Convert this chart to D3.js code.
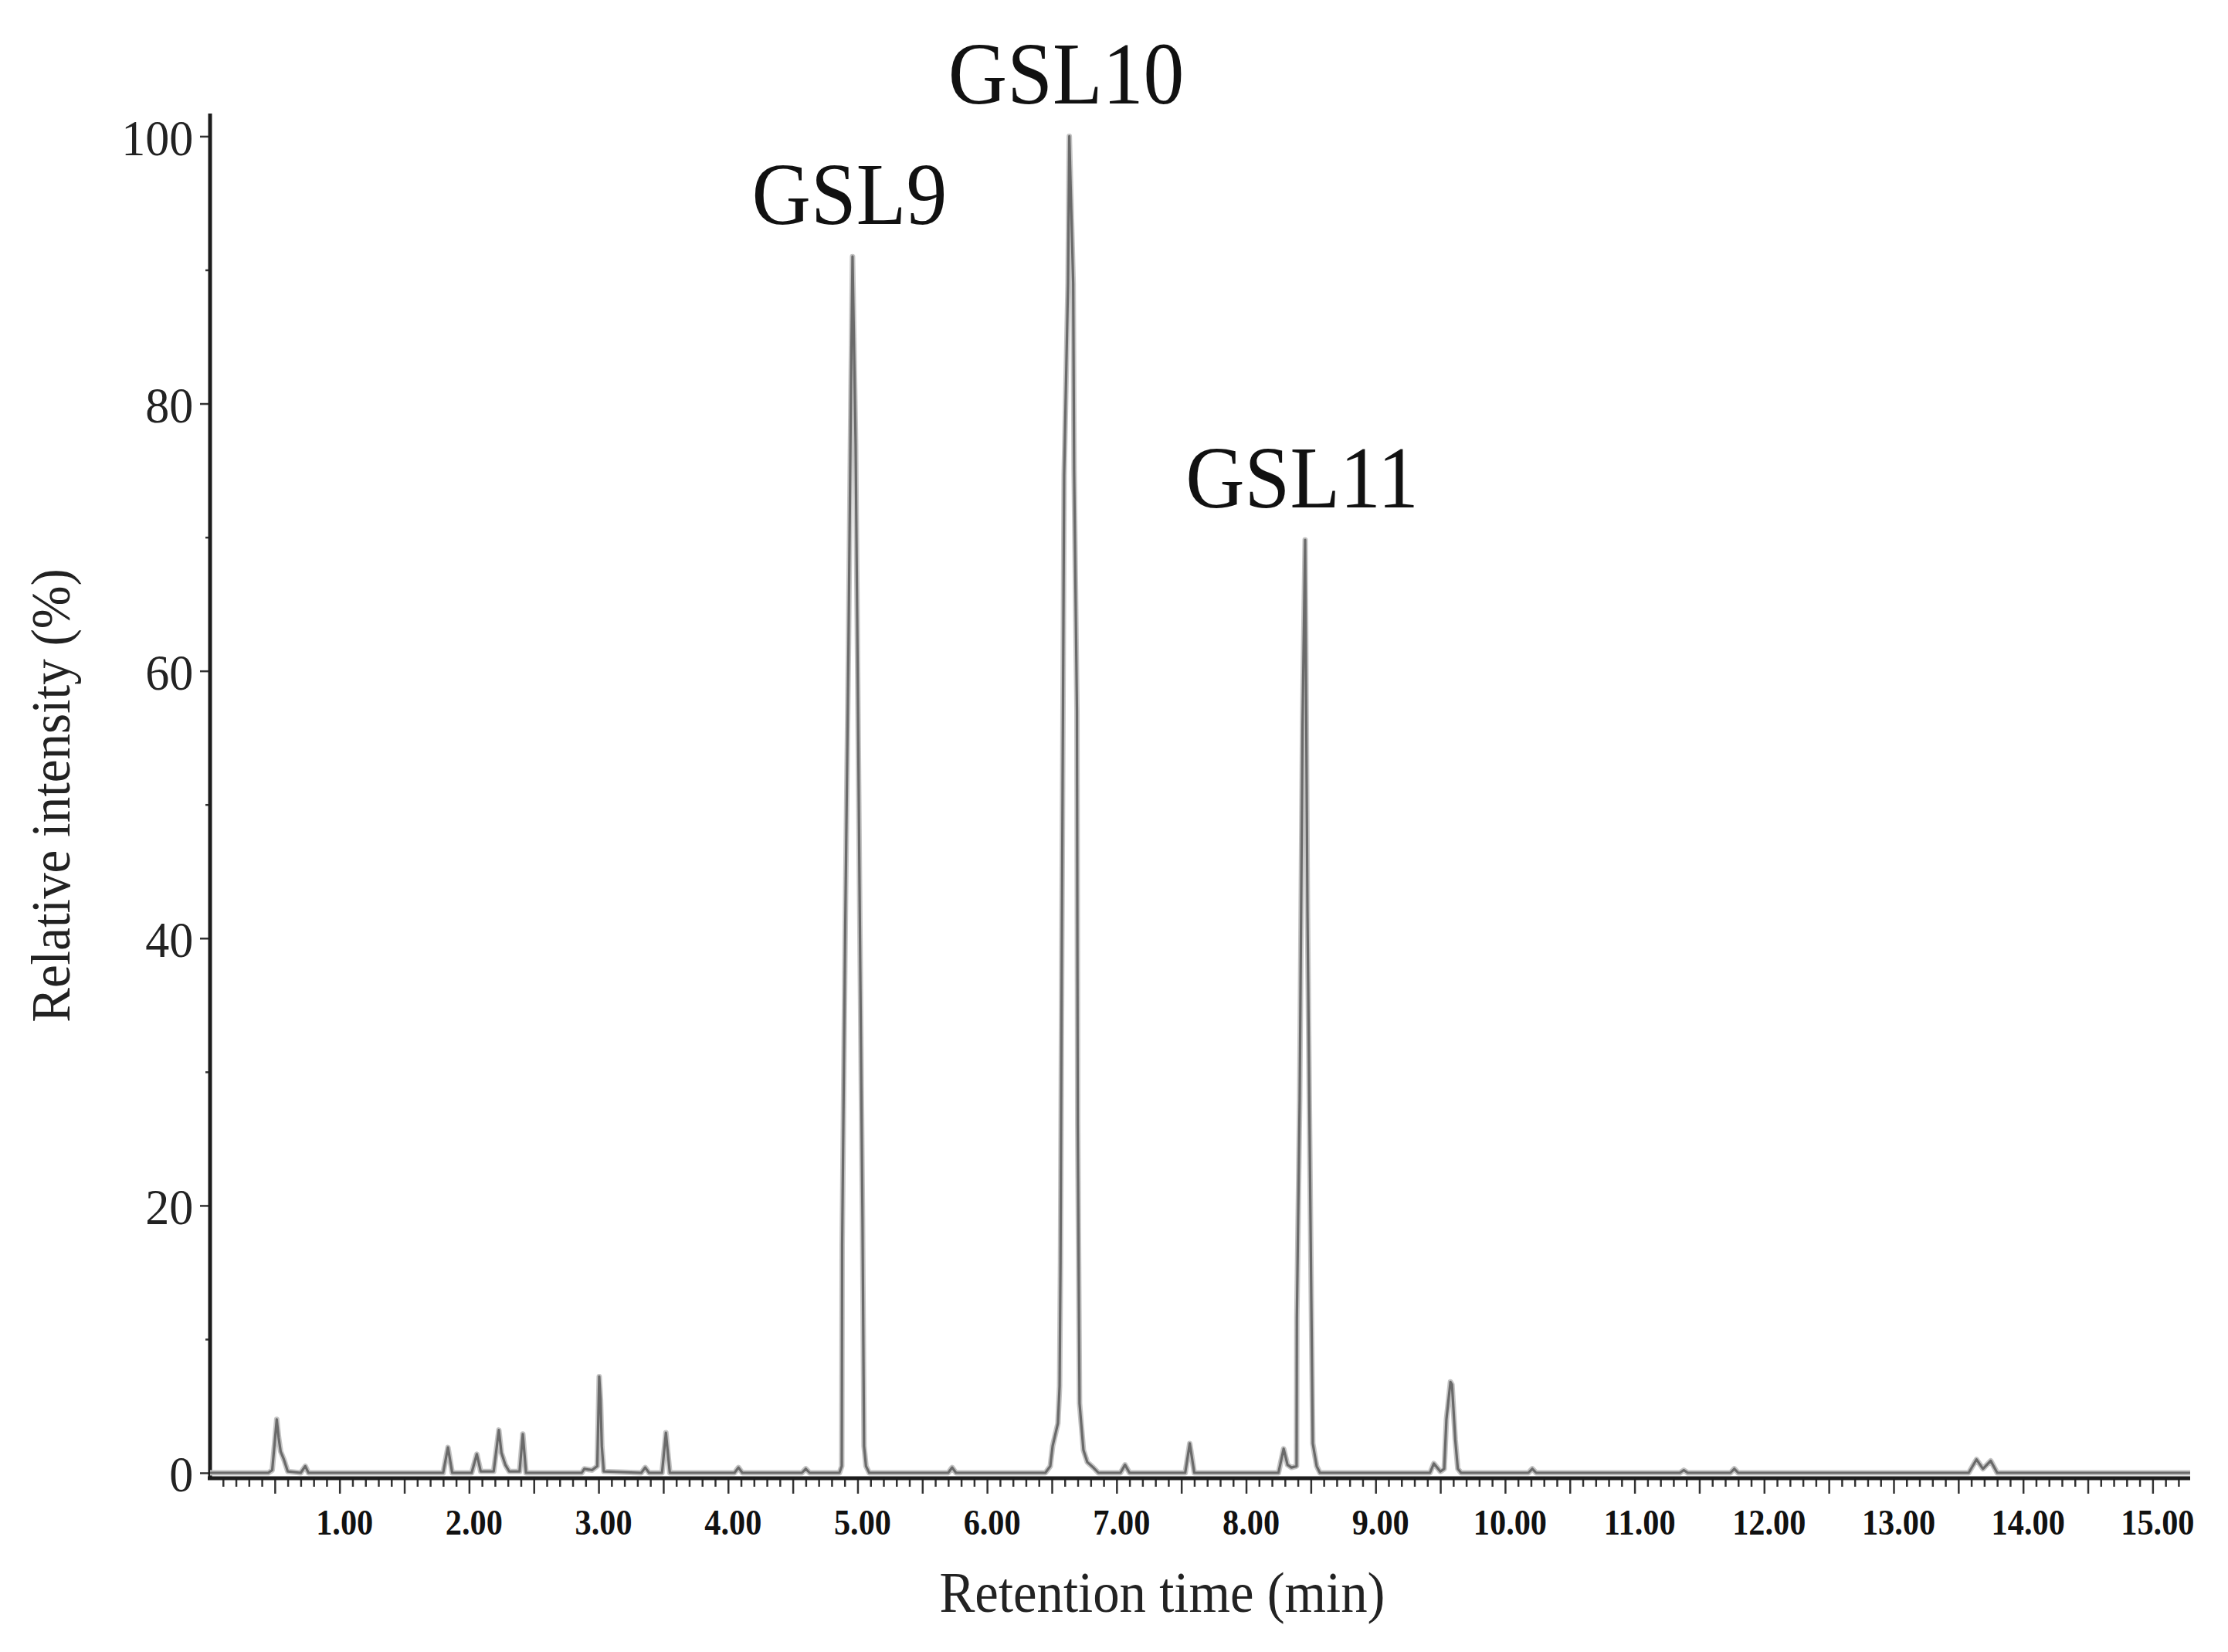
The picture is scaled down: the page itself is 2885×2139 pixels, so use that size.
<!DOCTYPE html>
<html>
<head>
  <title>Chromatogram</title>
  <style>
    body { margin: 0; background: #fff; }
    svg { display: block; font-family: "Liberation Serif", "Times New Roman", serif; }
  </style>
</head>
<body>
  <div id="chart"></div>

  <script src="https://d3js.org/d3.v7.min.js"></script>
  <script>
    // Retention time (min) and relative intensity (%)
    const rtTimes = [
      0.00, 0.45, 0.48, 0.515, 0.53, 0.545, 0.57, 0.60, 0.70, 0.735, 0.76,
      1.80, 1.837, 1.87, 2.02, 2.06, 2.09, 2.19, 2.23, 2.25, 2.28, 2.31, 2.39, 2.415, 2.44,
      2.87, 2.89, 2.95, 2.99, 3.005, 3.015, 3.025, 3.04, 3.33, 3.36, 3.39, 3.49, 3.52, 3.55,
      4.05, 4.08, 4.11, 4.57, 4.60, 4.63,
      4.86, 4.878, 4.881, 4.905, 4.93, 4.949, 4.961, 4.985, 4.997, 5.015, 5.038, 5.05, 5.065, 5.09,
      5.70, 5.73, 5.76,
      6.45, 6.488, 6.506, 6.547, 6.56, 6.567, 6.577, 6.595, 6.625, 6.635, 6.665, 6.672, 6.694, 6.70,
      6.714, 6.744, 6.774, 6.82, 6.86, 7.03, 7.065, 7.10, 7.53, 7.565, 7.60,
      8.25, 8.29, 8.32, 8.35, 8.39, 8.392, 8.414, 8.436, 8.456, 8.474, 8.497, 8.515, 8.545, 8.57,
      9.42, 9.45, 9.50, 9.53, 9.547, 9.578, 9.59, 9.60, 9.615, 9.635, 9.66,
      10.18, 10.21, 10.24, 11.35, 11.38, 11.41, 11.74, 11.77, 11.80,
      13.58, 13.64, 13.69, 13.75, 13.80, 15.29
    ];
    const rtIntensity = [
      0, 0, 0.2, 4.0, 2.6, 1.6, 1.0, 0.1, 0, 0.5, 0,
      0, 1.9, 0, 0, 1.4, 0.1, 0.1, 3.2, 1.5, 0.6, 0.1, 0.1, 2.9, 0,
      0, 0.3, 0.2, 0.5, 7.2, 5.5, 2.0, 0.1, 0, 0.4, 0, 0, 3.0, 0,
      0, 0.4, 0, 0, 0.3, 0,
      0, 0.5, 17, 41, 62, 81, 91, 77, 64, 44, 19, 2, 0.5, 0,
      0, 0.4, 0,
      0, 0.5, 2.0, 3.7, 6.5, 15.8, 39, 74.6, 89, 100, 89, 75, 57, 26,
      5.2, 1.7, 0.8, 0.4, 0, 0, 0.6, 0, 0, 2.2, 0,
      0, 1.8, 0.6, 0.4, 0.5, 11.6, 28, 56, 69.8, 42, 19.3, 2.2, 0.5, 0,
      0, 0.7, 0.1, 0.3, 4, 6.8, 6.6, 5, 2.5, 0.3, 0,
      0, 0.3, 0, 0, 0.2, 0, 0, 0.3, 0,
      0, 1.0, 0.3, 0.9, 0, 0
    ];

    // Labelled peaks
    const peakNames = ["GSL9", "GSL10", "GSL11"];
    const peakTimes = [4.961, 6.635, 8.456];
    const peakHeights = [91, 100, 69.8];

    // Axis ticks
    const yMajorTicks = [0, 20, 40, 60, 80, 100];
    const yMinorTicks = [10, 30, 50, 70, 90];
    const xLabelTicks = d3.range(1, 16);

    const trace = rtTimes.map((t, i) => ({ t, v: rtIntensity[i] }));

    const svg = d3.select("#chart")
      .append("svg")
      .attr("width", 2885)
      .attr("height", 2139);

    const x = d3.scaleLinear().domain([0, 15.29]).range([272, 2836]);
    const y = d3.scaleLinear().domain([0, 101.7]).range([1907, 147]);

    const axisColor = "#1c1c1c";
    const serif = "'Liberation Serif', 'Times New Roman', serif";

    // x axis: minor ticks every 0.1, long ticks every 0.5, labels on whole minutes
    const xAxisY = y(0) + 7;
    const minorX = d3.range(1, 153).map(d => d / 10).filter(d => Math.round(d * 10) % 5 !== 0);
    const halfX = d3.range(1, 31).map(d => d / 2);

    const gxMinor = svg.append("g")
      .attr("transform", `translate(0,${xAxisY})`)
      .call(d3.axisBottom(x).tickValues(minorX).tickSize(11).tickSizeOuter(0).tickFormat(""));
    const gxMajor = svg.append("g")
      .attr("transform", `translate(0,${xAxisY})`)
      .call(d3.axisBottom(x).tickValues(halfX).tickSize(20).tickSizeOuter(0).tickFormat(""));
    const gxLabels = svg.append("g")
      .attr("transform", `translate(0,${xAxisY})`)
      .call(d3.axisBottom(x).tickValues(xLabelTicks).tickSize(0).tickSizeOuter(0).tickFormat(d3.format(".2f")));

    [gxMinor, gxMajor, gxLabels].forEach(g => {
      g.attr("font-family", serif);
      g.select(".domain").remove();
      g.selectAll("line").attr("stroke", "#333").attr("stroke-width", 2.5);
    });
    gxLabels.selectAll("text")
      .attr("y", 40)
      .attr("dy", "0.71em")
      .attr("transform", "translate(6,0) scale(0.92,1)")
      .attr("font-size", 46)
      .attr("font-weight", "bold")
      .attr("fill", "#111");

    svg.append("line")
      .attr("x1", x(0) - 3).attr("x2", x(15.29))
      .attr("y1", xAxisY).attr("y2", xAxisY)
      .attr("stroke", axisColor).attr("stroke-width", 5);

    // y axis
    const gyMinor = svg.append("g")
      .attr("transform", `translate(${x(0)},0)`)
      .call(d3.axisLeft(y).tickValues(yMinorTicks).tickSize(6).tickSizeOuter(0).tickFormat(""));
    const gyMajor = svg.append("g")
      .attr("transform", `translate(${x(0)},0)`)
      .call(d3.axisLeft(y).tickValues(yMajorTicks).tickSize(13).tickSizeOuter(0));

    [gyMinor, gyMajor].forEach(g => {
      g.attr("font-family", serif);
      g.select(".domain").remove();
      g.selectAll("line").attr("stroke", "#333").attr("stroke-width", 2.5);
    });
    gyMajor.selectAll("text")
      .attr("x", -23)
      .attr("dy", "0.36em")
      .attr("transform", "scale(0.94,1)")
      .attr("font-size", 66)
      .attr("fill", "#222");

    svg.append("line")
      .attr("x1", x(0)).attr("x2", x(0))
      .attr("y1", y(101.7)).attr("y2", xAxisY + 2)
      .attr("stroke", axisColor).attr("stroke-width", 5);

    // trace
    const line = d3.line()
      .x(d => x(d.t))
      .y(d => y(d.v));

    svg.append("path")
      .datum(trace)
      .attr("fill", "none")
      .attr("stroke", "#c4c4c4")
      .attr("stroke-width", 7)
      .attr("stroke-linejoin", "round")
      .attr("d", line);

    svg.append("path")
      .datum(trace)
      .attr("fill", "none")
      .attr("stroke", "#6a6a6a")
      .attr("stroke-width", 3.2)
      .attr("stroke-linejoin", "round")
      .attr("d", line);

    // peak labels
    svg.selectAll(".peak-label")
      .data(peakNames)
      .enter()
      .append("text")
      .attr("class", "peak-label")
      .attr("transform", (d, i) => `translate(${x(peakTimes[i]) - 4},${y(peakHeights[i]) - 42}) scale(0.92,1)`)
      .attr("text-anchor", "middle")
      .attr("font-size", 115)
      .attr("fill", "#111")
      .text(d => d);

    // axis titles
    svg.append("text")
      .attr("transform", "translate(1505,2087) scale(0.93,1)")
      .attr("text-anchor", "middle")
      .attr("font-size", 74)
      .attr("fill", "#222")
      .text("Retention time (min)");

    svg.append("text")
      .attr("transform", "translate(90,1030) rotate(-90) scale(0.93,1)")
      .attr("text-anchor", "middle")
      .attr("font-size", 72)
      .attr("fill", "#222")
      .text("Relative intensity (%)");
  </script>
</body>
</html>
